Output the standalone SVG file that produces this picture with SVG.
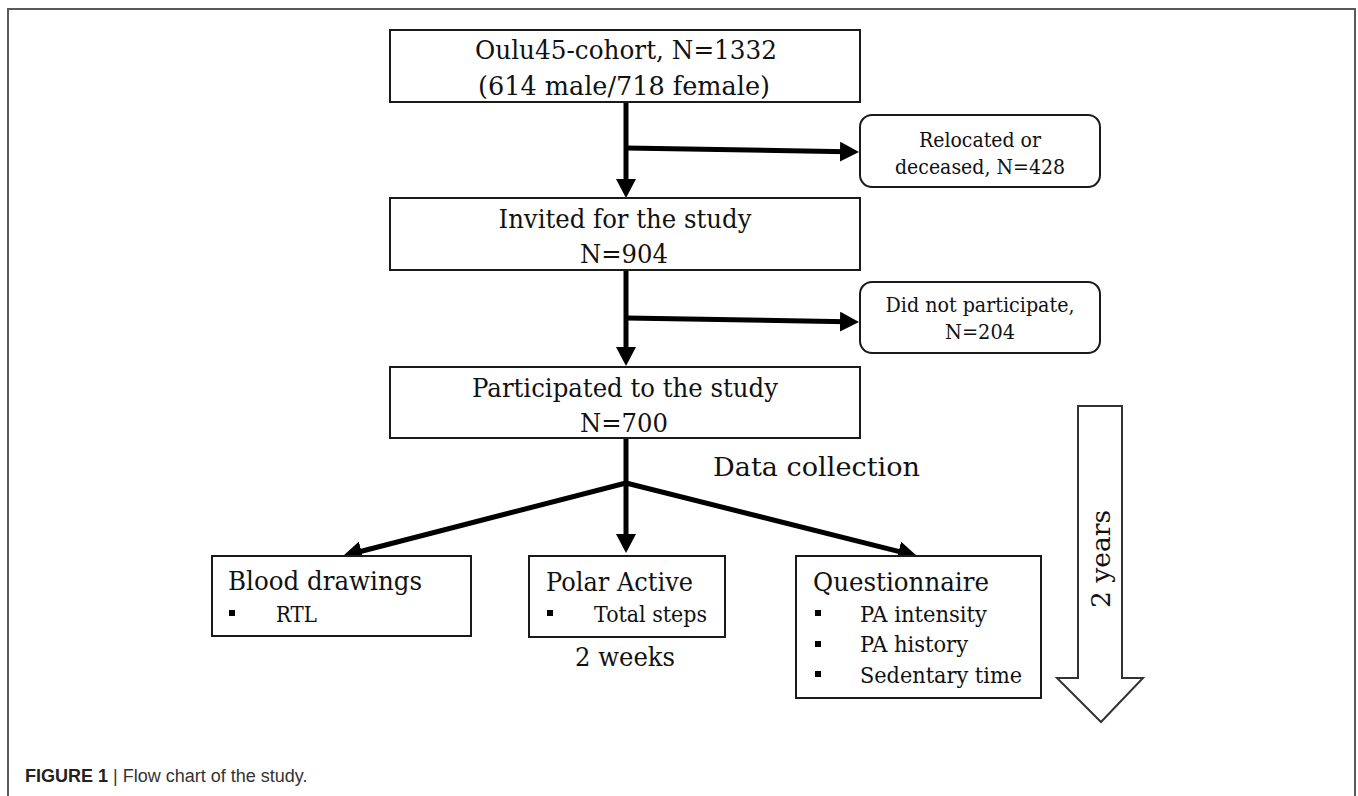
<svg xmlns="http://www.w3.org/2000/svg" width="1358" height="796" viewBox="0 0 1358 796">
<style>
.bg{fill:#ffffff}
.frame{fill:none;stroke:#5a5a5a;stroke-width:2}
.box{fill:#ffffff;stroke:#1a1a1a;stroke-width:2}
.rbox{fill:#ffffff;stroke:#1a1a1a;stroke-width:2}
.t{font-family:"DejaVu Serif","Liberation Serif",serif;font-size:26px;fill:#111111}
.ts{font-family:"DejaVu Serif","Liberation Serif",serif;font-size:20.5px;fill:#111111}
.ti{font-family:"DejaVu Serif","Liberation Serif",serif;font-size:21.5px;fill:#111111}
.mid{text-anchor:middle}
.conn{fill:none;stroke:#000000;stroke-width:5;stroke-linejoin:miter}
.bul{fill:#000000}
.cap{font-family:"Liberation Sans",Arial,sans-serif;font-size:18px;fill:#333333}
.capb{font-weight:bold;fill:#222222}
.big{fill:#ffffff;stroke:#333333;stroke-width:2}
</style>
<defs>
<marker id="ah" markerUnits="userSpaceOnUse" markerWidth="20" markerHeight="20" refX="7" refY="10" orient="auto" viewBox="0 0 20 20">
<path d="M0,0 L19,10 L0,20 Z" fill="#000000"/>
</marker>
</defs>
<rect class="bg" x="0" y="0" width="1358" height="796"/>
<path class="frame" d="M8,796 V9 H1355 V796"/>

<g id="connectors">
<path class="conn" d="M626,102 V186" marker-end="url(#ah)"/>
<path class="conn" d="M626,148 L847,151.8" marker-end="url(#ah)"/>
<path class="conn" d="M626,271 V354" marker-end="url(#ah)"/>
<path class="conn" d="M626,318 L847,321.8" marker-end="url(#ah)"/>
<path class="conn" d="M626,438 V483"/>
<path class="conn" d="M626,483 L354.6,553" marker-end="url(#ah)"/>
<path class="conn" d="M626,483 V541" marker-end="url(#ah)"/>
<path class="conn" d="M626,483 L905.4,553.1" marker-end="url(#ah)"/>
</g>

<g id="cohort">
<rect class="box" x="390" y="30" width="470" height="72"/>
<text class="t mid" x="626" y="59" textLength="302" lengthAdjust="spacingAndGlyphs">Oulu45-cohort, N=1332</text>
<text class="t mid" x="624" y="95" textLength="292" lengthAdjust="spacingAndGlyphs">(614 male/718 female)</text>
</g>

<g id="relocated">
<rect class="rbox" x="860" y="115" width="240" height="72" rx="12" ry="12"/>
<text class="ts mid" x="980" y="147" textLength="122" lengthAdjust="spacingAndGlyphs">Relocated or</text>
<text class="ts mid" x="980" y="174" textLength="170" lengthAdjust="spacingAndGlyphs">deceased, N=428</text>
</g>

<g id="invited">
<rect class="box" x="390" y="198" width="470" height="72"/>
<text class="t mid" x="625" y="228" textLength="253" lengthAdjust="spacingAndGlyphs">Invited for the study</text>
<text class="t mid" x="624" y="263" textLength="88" lengthAdjust="spacingAndGlyphs">N=904</text>
</g>

<g id="notparticipate">
<rect class="rbox" x="860" y="282" width="240" height="71" rx="12" ry="12"/>
<text class="ts mid" x="980" y="312" textLength="189" lengthAdjust="spacingAndGlyphs">Did not participate,</text>
<text class="ts mid" x="980" y="339" textLength="70" lengthAdjust="spacingAndGlyphs">N=204</text>
</g>

<g id="participated">
<rect class="box" x="390" y="367" width="470" height="71"/>
<text class="t mid" x="625" y="397" textLength="306" lengthAdjust="spacingAndGlyphs">Participated to the study</text>
<text class="t mid" x="624" y="432" textLength="88" lengthAdjust="spacingAndGlyphs">N=700</text>
</g>

<g id="datacollection">
<text class="t" x="713" y="476" textLength="207" lengthAdjust="spacingAndGlyphs">Data collection</text>
</g>

<g id="blood">
<rect class="box" x="212" y="556" width="259" height="80"/>
<text class="t" x="228" y="590" textLength="194" lengthAdjust="spacingAndGlyphs">Blood drawings</text>
<rect class="bul" x="229" y="610" width="6" height="6"/>
<text class="ti" x="276" y="622" textLength="41" lengthAdjust="spacingAndGlyphs">RTL</text>
</g>

<g id="polar">
<rect class="box" x="529" y="556" width="196" height="81"/>
<text class="t" x="546" y="591" textLength="147" lengthAdjust="spacingAndGlyphs">Polar Active</text>
<rect class="bul" x="547" y="610" width="6" height="6"/>
<text class="ti" x="594" y="622" textLength="113" lengthAdjust="spacingAndGlyphs">Total steps</text>
<text class="t" x="575" y="666" textLength="100" lengthAdjust="spacingAndGlyphs">2 weeks</text>
</g>

<g id="questionnaire">
<rect class="box" x="796" y="556" width="245" height="142"/>
<text class="t" x="813" y="591" textLength="176" lengthAdjust="spacingAndGlyphs">Questionnaire</text>
<rect class="bul" x="815" y="610" width="6" height="6"/>
<text class="ti" x="860" y="622" textLength="127" lengthAdjust="spacingAndGlyphs">PA intensity</text>
<rect class="bul" x="815" y="641" width="6" height="6"/>
<text class="ti" x="860" y="652" textLength="108" lengthAdjust="spacingAndGlyphs">PA history</text>
<rect class="bul" x="815" y="671" width="6" height="6"/>
<text class="ti" x="860" y="683" textLength="162" lengthAdjust="spacingAndGlyphs">Sedentary time</text>
</g>

<g id="timeline">
<polygon class="big" points="1078,406 1122,406 1122,678 1143,678 1101,722 1057,678 1078,678"/>
<text class="t mid" transform="translate(1110,559) rotate(-90)" x="0" y="0" textLength="98" lengthAdjust="spacingAndGlyphs">2 years</text>
</g>

<g id="caption">
<text class="cap" x="25" y="782"><tspan class="capb">FIGURE 1</tspan> | Flow chart of the study.</text>
</g>
</svg>
